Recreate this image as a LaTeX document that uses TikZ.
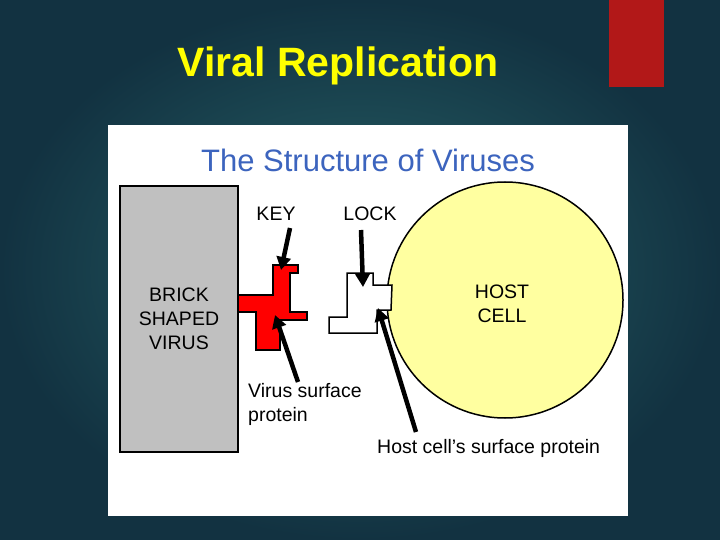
\documentclass[tikz,border=0pt]{standalone}
\usepackage{fontspec}
\setmainfont{Liberation Sans}
\usetikzlibrary{arrows.meta}
\begin{document}
\begin{tikzpicture}[x=1pt,y=-1pt,
  lbl/.style={font=\fontsize{19.5}{24}\selectfont, text=black, align=left, inner sep=0},
  arr/.style={line width=4.5pt, -{Triangle[length=13pt,width=14pt]}}]
\useasboundingbox (0,0) rectangle (720,540);
\shade[inner color={rgb,255:red,40;green,100;blue,105}, outer color={rgb,255:red,18;green,50;blue,65}] (0,0) rectangle (720,540);
\fill[fill={rgb,255:red,178;green,24;blue,24}] (609,0) rectangle (664,87);
\node[font=\bfseries\fontsize{41}{44}\selectfont, text={rgb,255:red,255;green,255;blue,0}] (title) at (338,66) {Viral Replication};
\fill[white] (108,125) rectangle (628,516);
\node[font=\fontsize{31}{34}\selectfont, text={rgb,255:red,60;green,100;blue,190}] (sub) at (368,160) {The Structure of Viruses};
\draw[line width=1.5pt, fill={rgb,255:red,255;green,255;blue,160}] (505,300) circle (118);
\node (host) at (502,304) [lbl, align=center] {HOST\\CELL};
\draw[line width=1.5pt, fill={rgb,255:red,192;green,192;blue,192}] (120,186) rectangle (238,452);
\node (virus) at (179,319) [lbl, align=center] {BRICK\\SHAPED\\VIRUS};
\draw[line width=1.5pt, fill=red] (238,295) -- (273,295) -- (273,265) -- (298,265) -- (298,273) -- (290,273) -- (290,312) -- (307,312) -- (307,320) -- (280,320) -- (280,350) -- (256,350) -- (256,312) -- (238,312) -- cycle;
\draw[line width=1.5pt, fill=white] (347,273) -- (373,273) -- (373,285) -- (392,285) -- (391,310) -- (377,310) -- (377,333) -- (329,333) -- (329,317) -- (347,317) -- cycle;
\node (key) at (276,214) [lbl] {KEY};
\node (lock) at (370,214) [lbl] {LOCK};
\node (vsp) at (248,404) [lbl, anchor=west] {Virus surface\\protein};
\node (hsp) at (377,448) [lbl, anchor=west] {Host cell's surface protein};
\coordinate (k1) at (290,228); \coordinate (k2) at (281,270);
\coordinate (l1) at (361,230); \coordinate (l2) at (363,287);
\coordinate (v1) at (298,382); \coordinate (v2) at (275,315);
\coordinate (h1) at (416,432); \coordinate (h2) at (378,308);
\draw[arr] (k1) -- (k2);
\draw[arr] (l1) -- (l2);
\draw[arr] (v1) -- (v2);
\draw[arr] (h1) -- (h2);
\end{tikzpicture}
\end{document}
